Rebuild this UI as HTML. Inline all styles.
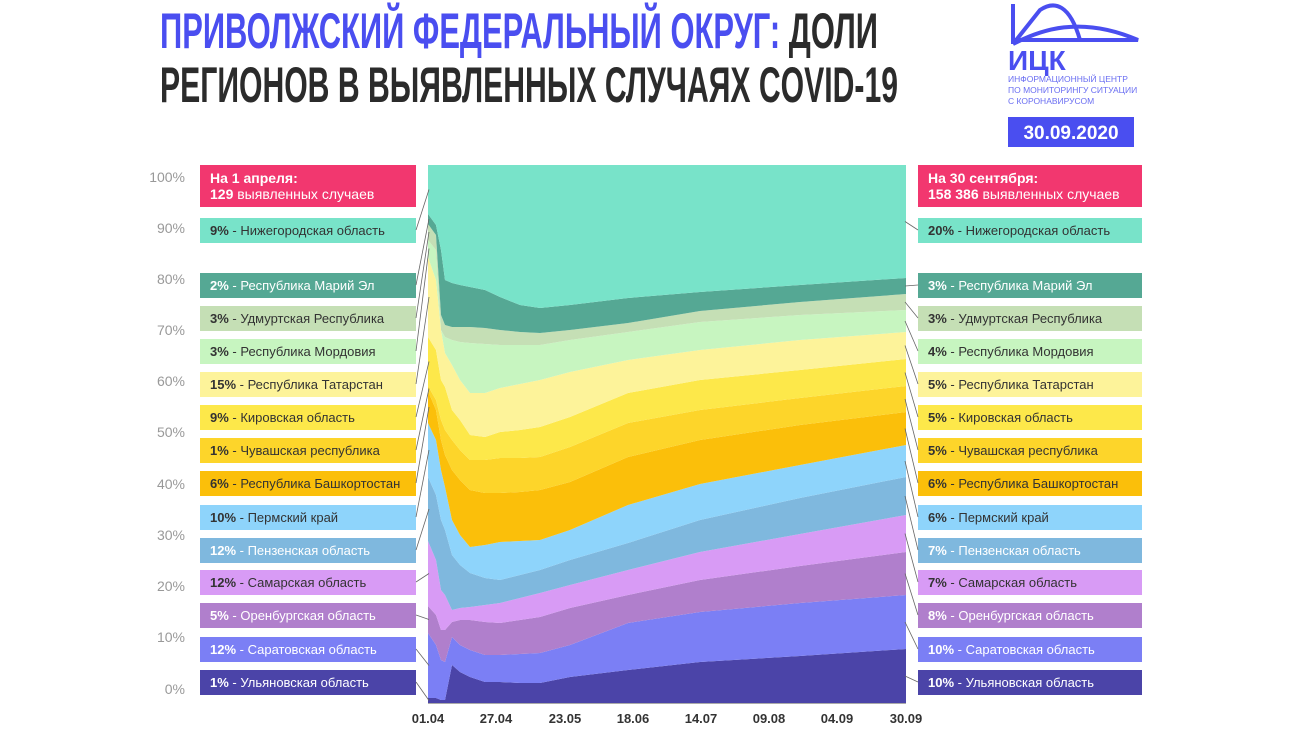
<!DOCTYPE html>
<html><head><meta charset="utf-8"><style>
html,body{margin:0;padding:0;background:#fff;}
svg{display:block;font-family:"Liberation Sans",sans-serif;}
</style></head><body>
<svg id="s" width="1300" height="734" viewBox="0 0 1300 734" xmlns="http://www.w3.org/2000/svg">
<text x="160" y="48" font-size="50" font-weight="bold" textLength="718" lengthAdjust="spacingAndGlyphs"><tspan fill="#4a4ef0">ПРИВОЛЖСКИЙ ФЕДЕРАЛЬНЫЙ ОКРУГ:</tspan><tspan fill="#2b2b2b"> ДОЛИ</tspan></text>
<text x="160" y="102" font-size="50" font-weight="bold" fill="#2b2b2b" textLength="738" lengthAdjust="spacingAndGlyphs">РЕГИОНОВ В ВЫЯВЛЕННЫХ СЛУЧАЯХ COVID-19</text>
<g fill="none" stroke="#4a4ef0" stroke-width="4">
<path d="M1013 4 V44 M1013 44 L1040 10 C1055 0 1070 5 1080 40"/>
<path d="M1013 44 C1040 30 1080 15 1138 40 H1013"/>
</g>
<text x="1008" y="70" font-size="28" font-weight="bold" fill="#4a4ef0">ИЦК</text>
<text x="1008" y="82" font-size="8.5" fill="#6a6ef2">ИНФОРМАЦИОННЫЙ ЦЕНТР</text>
<text x="1008" y="93" font-size="8.5" fill="#6a6ef2">ПО МОНИТОРИНГУ СИТУАЦИИ</text>
<text x="1008" y="104" font-size="8.5" fill="#6a6ef2">С КОРОНАВИРУСОМ</text>
<rect x="1008" y="117" width="126" height="30" fill="#4a4ef0"/>
<text x="1071" y="139" font-size="19" font-weight="bold" fill="#fff" text-anchor="middle">30.09.2020</text>
<g font-size="14" fill="#999" text-anchor="end">
<text x="185" y="182">100%</text><text x="185" y="233">90%</text><text x="185" y="284">80%</text><text x="185" y="335">70%</text><text x="185" y="386">60%</text><text x="185" y="437">50%</text><text x="185" y="489">40%</text><text x="185" y="540">30%</text><text x="185" y="591">20%</text><text x="185" y="642">10%</text><text x="185" y="694">0%</text>
</g>
<g id="areas"></g>
<line x1="428" y1="703.5" x2="906" y2="703.5" stroke="#aaa"/>
<g font-size="13" font-weight="bold" fill="#333" text-anchor="middle">
<text x="428" y="723">01.04</text><text x="496" y="723">27.04</text><text x="565" y="723">23.05</text><text x="633" y="723">18.06</text><text x="701" y="723">14.07</text><text x="769" y="723">09.08</text><text x="837" y="723">04.09</text><text x="906" y="723">30.09</text>
</g>
<rect x="200" y="165" width="216" height="42" fill="#f2376f"/>
<text x="210" y="183" font-size="14" font-weight="bold" fill="#fff">На 1 апреля:</text>
<text x="210" y="199" font-size="14" fill="#fff"><tspan font-weight="bold">129</tspan> выявленных случаев</text>
<rect x="918" y="165" width="224" height="42" fill="#f2376f"/>
<text x="928" y="183" font-size="14" font-weight="bold" fill="#fff">На 30 сентября:</text>
<text x="928" y="199" font-size="14" fill="#fff"><tspan font-weight="bold">158 386</tspan> выявленных случаев</text>
<g id="labels"></g>
</svg>
<script>
var xs=[428,436,441,445,452,460,470,485,500,520,540,570,628,700,800,906];
var B=[
[703,703,703,703,703,703,703,703,703,703,703,703,703,703,703,703],
[698,698,700,700,665,672,677,682,682,683,683,677,670,662,656,649],
[633,645,660,662,637,645,650,655,655,654,653,645,623,612,603,595],
[606,615,630,630,622,620,620,622,623,620,617,608,595,580,566,552],
[541,560,590,595,610,608,607,605,603,598,593,585,570,552,534,515],
[477,495,520,530,555,565,573,578,580,575,570,560,543,520,498,477],
[423,440,470,487,520,535,547,545,542,541,540,530,505,484,465,445],
[391,410,440,455,470,480,490,493,493,492,490,482,457,440,425,412],
[386,400,420,430,440,450,460,460,458,458,457,447,423,410,398,386],
[337,350,380,387,410,420,435,437,432,430,427,417,393,380,370,359],
[257,280,330,353,365,380,393,393,388,384,380,372,360,350,340,332],
[240,250,330,337,340,342,343,344,345,345,345,340,332,322,315,310],
[224,235,315,325,327,327,327,328,330,332,333,330,323,311,302,294],
[214,225,250,280,283,285,287,290,297,305,308,305,298,292,285,278],
[165,165,165,165,165,165,165,165,165,165,165,165,165,165,165,165]];
var cols=["#4b44a8","#7b7ff5","#b07fcc","#d89bf5","#7fb8de","#8ed4fb","#fbbf0a","#fdd52a","#fde84a","#fdf39a","#c7f5c0","#c5dfb5","#55a894","#78e3c9"];
var names=["Ульяновская область","Саратовская область","Оренбургская область","Самарская область","Пензенская область","Пермский край","Республика Башкортостан","Чувашская республика","Кировская область","Республика Татарстан","Республика Мордовия","Удмуртская Республика","Республика Марий Эл","Нижегородская область"];
var lp=[1,12,5,12,12,10,6,1,9,15,3,3,2,9],rp=[10,10,8,7,7,6,6,5,5,5,4,3,3,20];
var white=[1,1,1,0,1,0,0,0,0,0,0,0,1,0];
var ly=[682,649,615,582,550,517,483,450,417,384,351,318,285,230];
var NS="http://www.w3.org/2000/svg",g=document.getElementById("areas"),L=document.getElementById("labels");
function el(t,a,p){var e=document.createElementNS(NS,t);for(var k in a)e.setAttribute(k,a[k]);p.appendChild(e);return e;}
var n=xs.length;
for(var i=0;i<14;i++){
 var d="M";for(var j=0;j<n;j++)d+=xs[j]+" "+B[i+1][j]+" L";
 for(var j=n-1;j>=0;j--)d+=xs[j]+" "+B[i][j]+(j?" L":"");
 el("path",{d:d+"Z",fill:cols[i]},g);
 var tc=white[i]?"#fff":"#333";
 el("rect",{x:200,y:ly[i]-12,width:216,height:25,fill:cols[i]},L);
 el("rect",{x:918,y:ly[i]-12,width:224,height:25,fill:cols[i]},L);
 var t=el("text",{x:210,y:ly[i]+5,"font-size":13,fill:tc},L);t.innerHTML='<tspan font-weight="bold">'+lp[i]+'%</tspan> - '+names[i];
 t=el("text",{x:928,y:ly[i]+5,"font-size":13,fill:tc},L);t.innerHTML='<tspan font-weight="bold">'+rp[i]+'%</tspan> - '+names[i];
 var my=(B[i][0]+B[i+1][0])/2, ry=(B[i][n-1]+B[i+1][n-1])/2;
 el("line",{x1:416,y1:ly[i],x2:429,y2:my,stroke:"#666","stroke-width":0.8},L);
 el("line",{x1:905,y1:ry,x2:918,y2:ly[i],stroke:"#666","stroke-width":0.8},L);
}
</script>
</body></html>
